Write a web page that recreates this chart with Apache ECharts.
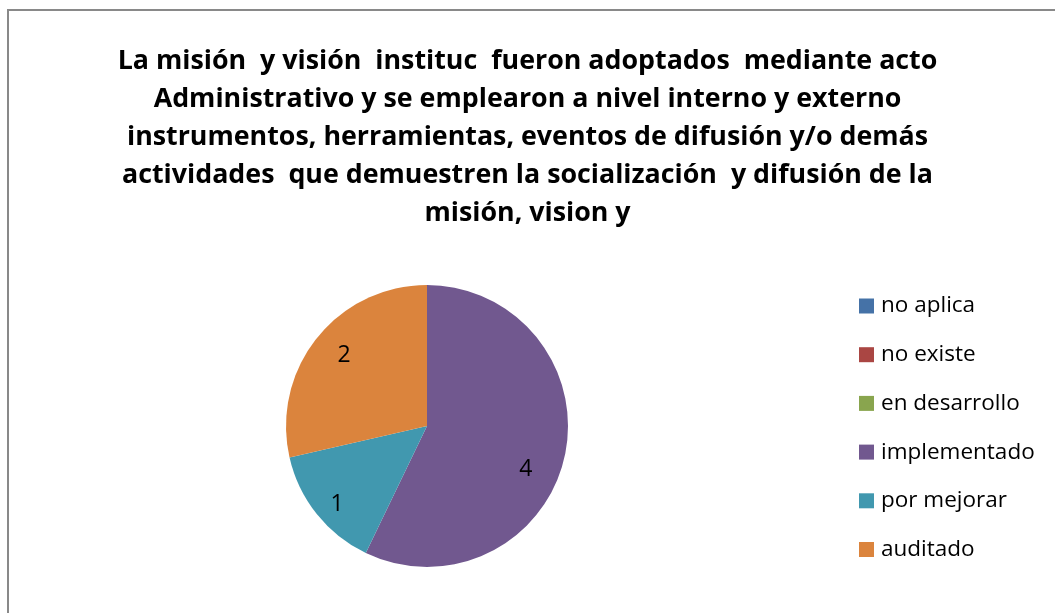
<!DOCTYPE html>
<html>
<head>
<meta charset="utf-8">
<script src="https://cdn.jsdelivr.net/npm/echarts@6/dist/echarts.min.js"></script>
<style>
  html, body { margin: 0; padding: 0; background: #fff; }
  #chart { width: 1055px; height: 613px; }
</style>
</head>
<body>
<div id="chart"></div>
<script>
  // categories and counts
  var categories = ['no aplica', 'no existe', 'en desarrollo', 'implementado', 'por mejorar', 'auditado'];
  var values = [0, 0, 0, 4, 1, 2];
  var colors = ['#4572A7', '#AA4643', '#89A54E', '#71588F', '#4198AF', '#DB843D'];

  var titleLines = [
    'La misión  y visión  instituc  fueron adoptados  mediante acto',
    'Administrativo y se emplearon a nivel interno y externo',
    'instrumentos, herramientas, eventos de difusión y/o demás',
    'actividades  que demuestren la socialización  y difusión de la',
    'misión, vision y'
  ];

  // small nudges so the value labels sit where Excel put them
  var labelNudge = { 'implementado': [-7, 19], 'por mejorar': [-5, 11], 'auditado': [2, -3] };

  var pieData = categories.map(function (name, i) {
    return { name: name, value: values[i] };
  });

  var myChart = echarts.init(document.getElementById('chart'));

  var option = {
    animation: false,
    color: colors,
    title: {
      text: titleLines.join('\n'),
      left: 'center',
      top: 37,
      textStyle: {
        fontFamily: 'Open Sans',
        fontWeight: 'bold',
        fontSize: 26.8,
        lineHeight: 38,
        color: '#000'
      }
    },
    legend: {
      orient: 'vertical',
      left: 859,
      top: 294,
      padding: 0,
      itemWidth: 15,
      itemHeight: 15,
      itemGap: 24.7,
      icon: 'rect',
      selectedMode: false,
      textStyle: {
        fontFamily: 'Open Sans',
        fontSize: 22.5,
        lineHeight: 24,
        color: '#000',
        padding: [0, 0, 0, 2]
      },
      data: categories
    },
    graphic: [{
      type: 'rect',
      silent: true,
      shape: { x: 8, y: 10, width: 2000, height: 2000 },
      style: { fill: 'none', stroke: '#898989', lineWidth: 2 }
    }],
    series: [
      {
        type: 'pie',
        center: [427, 426],
        radius: [0, 141],
        startAngle: 90,
        clockwise: true,
        silent: true,
        label: { show: false },
        labelLine: { show: false },
        itemStyle: { borderWidth: 0 },
        data: pieData
      },
      {
        // transparent ring used only to place the labels at ~3/4 radius
        type: 'pie',
        center: [427, 426],
        radius: [70, 141],
        startAngle: 90,
        clockwise: true,
        silent: true,
        itemStyle: { color: 'rgba(0,0,0,0)', borderWidth: 0 },
        label: {
          show: true,
          position: 'inside',
          fontFamily: 'Open Sans',
          fontSize: 23,
          color: '#000',
          formatter: function (p) { return p.value ? String(p.value) : ''; }
        },
        labelLine: { show: false },
        data: pieData.map(function (d) {
          var nudge = labelNudge[d.name];
          return nudge ? { name: d.name, value: d.value, label: { offset: nudge } } : d;
        })
      }
    ]
  };

  myChart.setOption(option);
</script>
</body>
</html>
